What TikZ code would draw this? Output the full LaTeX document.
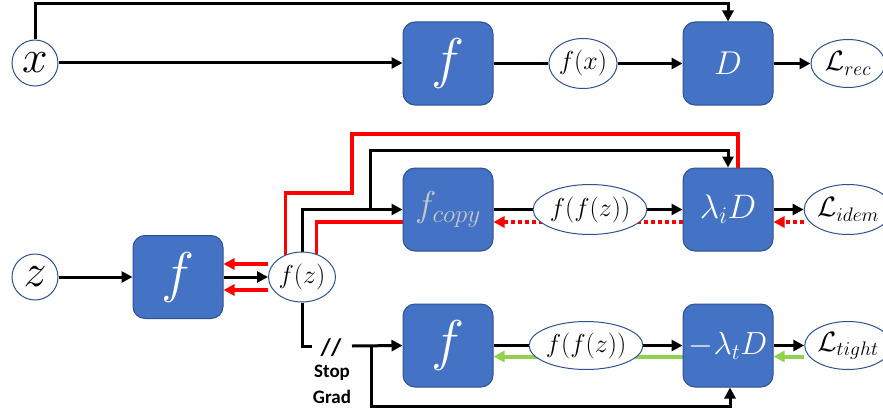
\RequirePackage{fix-cm}
\documentclass[tikz,border=0pt]{standalone}
\usepackage{fontspec}
\newfontfamily\calibri{Carlito}
\usetikzlibrary{shapes.geometric,arrows.meta,backgrounds,calc}
\definecolor{boxblue}{HTML}{4472C4}
\definecolor{edgeblue}{HTML}{2F528F}
\definecolor{gradred}{HTML}{FF0000}
\definecolor{gradgreen}{HTML}{92D050}
\definecolor{copygray}{RGB}{200,200,200}
\tikzset{
  blk/.style={line width=3pt,draw=black},
  arr/.style={blk,-{Triangle[length=11pt,width=11pt]}},
  redl/.style={line width=3.5pt,draw=gradred},
  redarr/.style={redl,-{Triangle[length=11pt,width=11pt]}},
  reddot/.style={line width=3.5pt,draw=gradred,dash pattern=on 4pt off 3pt,-{Triangle[length=11pt,width=11pt]}},
  greenarr/.style={line width=4pt,draw=gradgreen,-{Triangle[length=11pt,width=11pt]}},
  fbox/.style={rectangle,rounded corners=12pt,fill=boxblue,draw=edgeblue,line width=1pt,
    minimum width=90pt,minimum height=83pt,inner sep=0pt,text=white},
  oval/.style={ellipse,draw=edgeblue,fill=white,line width=1pt,inner sep=0pt},
  circ/.style={circle,draw=edgeblue,fill=white,line width=1pt,inner sep=0pt,minimum size=46pt},
  sgtext/.style={font=\calibri\bfseries\fontsize{19}{19}\selectfont,inner sep=0pt},
  ovtext/.style={font=\fontsize{26}{26}\selectfont},
  ltext/.style={font=\fontsize{28}{28}\selectfont},
}
\begin{document}
\begin{tikzpicture}[x=1pt,y=-1pt]
\useasboundingbox (0,0) rectangle (883,412);
% top row
\node[circ] (x) at (35,63) {\fontsize{46}{46}\selectfont$x$};
\node[fbox] (f1) at (448,63.5) {\fontsize{56}{56}\selectfont$f$};
\node[oval,ovtext,minimum width=67pt,minimum height=50pt] (fx) at (583,63.5) {$f(x)$};
\node[fbox] (D1) at (728,63.5) {\fontsize{33}{33}\selectfont$D$};
\node[oval,ltext,minimum width=74pt,minimum height=48pt] (Lrec) at (848,63.5) {$\mathcal{L}_{rec}$};
% middle row
\node[fbox] (fc) at (448,209.5) {\fontsize{36}{36}\selectfont\color{copygray}$f_{copy}$};
\node[oval,ovtext,minimum width=112pt,minimum height=50pt] (ffz1) at (590,209.5) {$f(f(z))$};
\node[fbox] (lD) at (728,209.5) {\fontsize{34}{34}\selectfont$\lambda_iD$};
\node[oval,ltext,minimum width=74pt,minimum height=50pt] (Lidem) at (848,209.5) {$\mathcal{L}_{idem}$};
% left
\node[circ] (z) at (35,277) {\fontsize{46}{46}\selectfont$z$};
\node[fbox] (f2) at (178,277) {\fontsize{56}{56}\selectfont$f$};
\node[oval,ovtext,minimum width=67pt,minimum height=50pt] (fz) at (302,277) {$f(z)$};
% bottom row
\node[fbox] (f3) at (448,345.5) {\fontsize{56}{56}\selectfont$f$};
\node[oval,ovtext,minimum width=111pt,minimum height=48pt] (ffz2) at (586,345.5) {$f(f(z))$};
\node[fbox] (tD) at (728,345.5) {\fontsize{32}{32}\selectfont$-\lambda_tD$};
\node[oval,ltext,minimum width=74pt,minimum height=48pt] (Ltight) at (848,345.5) {$\mathcal{L}_{tight}$};
% stop grad
\node[font=\calibri\bfseries\fontsize{24}{24}\selectfont,inner sep=0pt] (sl) at (331,348) {//};
\node[sgtext] (stop) at (332,373) {Stop};
\node[sgtext] (grad) at (332,397) {Grad};
\coordinate (topy) at (0,4);
\coordinate (b1) at (370,150);
\coordinate (r1) at (352,193);
\coordinate (r2) at (738,134);
\coordinate (sgL) at (312,346);
\coordinate (sgR) at (352,346);
\coordinate (b2) at (371,406);
\begin{scope}[on background layer]
% top
\draw[arr] (x.north) -- (x.north |- topy) -| (D1.north);
\draw[arr] (x.east) -- (x.east -| f1.west);
\draw[blk] (f1.east) -- (fx.west);
\draw[arr] (fx.east) -- (D1.west);
\draw[arr] (D1.east) -- (Lrec.west);
% left
\draw[arr] (z.east) -- (f2.west);
\draw[arr] (f2.east) -- (fz.west);
\draw[redarr] ([yshift=13pt]fz.west) -- ([yshift=13pt]f2.east);
\draw[redarr] ([yshift=-13pt]fz.west) -- ([yshift=-13pt]f2.east);
% middle
\draw[redl] (fz.126) |- (r1) |- (r2) -- ([xshift=10pt]lD.north);
\draw[arr] (fz.north) |- (fc.west);
\draw[arr] (b1 |- fc.west) -- (b1) -| (lD.north);
\draw[redl] ([yshift=-12.5pt]fc.west) -| (fz.58);
\draw[blk] (fc.east) -- (ffz1.west);
\draw[arr] (ffz1.east) -- (lD.west);
\draw[arr] (lD.east) -- (Lidem.west);
\draw[reddot] ([yshift=-12.5pt]lD.west) -- ([yshift=-12.5pt]fc.east);
\draw[reddot] ([yshift=-12.5pt]Lidem.west) -- ([yshift=-12.5pt]lD.east);
% bottom
\draw[blk] (fz.south) |- (sgL);
\draw[arr] (sgR) -- (f3.west);
\draw[arr] (b2 |- f3.west) -- (b2) -| ([xshift=2pt]tD.south);
\draw[blk] (f3.east) -- (ffz2.west);
\draw[arr] (ffz2.east) -- (tD.west);
\draw[arr] (tD.east) -- (Ltight.west);
\draw[greenarr] ([yshift=-11pt]tD.west) -- ([yshift=-11pt]f3.east);
\draw[greenarr] ([yshift=-11pt]Ltight.west) -- ([yshift=-11pt]tD.east);
\end{scope}
\end{tikzpicture}
\end{document}
